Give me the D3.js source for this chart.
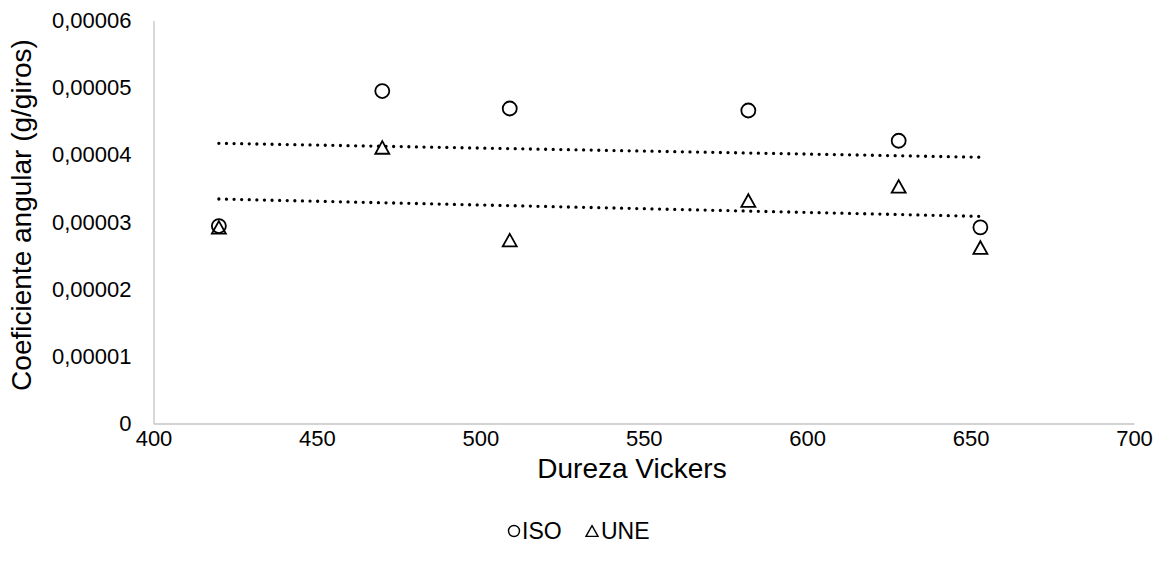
<!DOCTYPE html>
<html lang="es">
<head>
<meta charset="UTF-8">
<title>Coeficiente angular vs Dureza Vickers</title>
<script src="https://d3js.org/d3.v7.min.js"></script>
<style>
    body { margin: 0; background: #fff; }
    svg { display: block; font-family: "Liberation Sans", Arial, sans-serif; }
    .axis path { stroke: #c4c4c4; stroke-width: 1.3px; }
    .axis text { font-size: 22px; fill: #000; }
    .title { font-size: 28px; fill: #000; }
    .legend text { font-size: 23px; fill: #000; }
</style>
</head>
<body>
<svg id="chart" width="1165" height="572"></svg>
<script>
// Dureza Vickers (x) and angular coefficient in g/giros (y)
const dureza = [420, 470, 509, 582, 628, 653];
const iso = [0.0000294, 0.0000495, 0.0000469, 0.0000466, 0.0000421, 0.0000292];
const une = [0.0000292, 0.0000411, 0.0000273, 0.0000332, 0.0000353, 0.0000262];
const xTicks = [400, 450, 500, 550, 600, 650, 700];
const yTicks = [0, 0.00001, 0.00002, 0.00003, 0.00004, 0.00005, 0.00006];
const seriesNames = ["ISO", "UNE"];

const svg = d3.select("#chart"),
    margin = {top: 20.5, right: 31, bottom: 148.5, left: 153.5},
    width = +svg.attr("width"),
    height = +svg.attr("height");

const x = d3.scaleLinear().domain([400, 700]).range([margin.left, width - margin.right]);
const y = d3.scaleLinear().domain([0, 0.00006]).range([height - margin.bottom, margin.top]);

const fmt = d => d === 0 ? "0" : d.toFixed(5).replace(".", ",");

svg.append("g")
    .attr("class", "axis")
    .attr("transform", `translate(0,${height - margin.bottom})`)
    .call(d3.axisBottom(x).tickValues(xTicks).tickSize(0).tickPadding(7))
    .call(g => g.selectAll("text").attr("font-family", null));

svg.append("g")
    .attr("class", "axis")
    .attr("transform", `translate(${margin.left},0)`)
    .call(d3.axisLeft(y).tickValues(yTicks).tickFormat(fmt).tickSize(0).tickPadding(22))
    .call(g => g.selectAll("text").attr("font-family", null));

svg.selectAll(".axis path.domain").attr("stroke", "#c4c4c4");

// linear trendlines (least squares)
function fit(xs, ys) {
    const mx = d3.mean(xs), my = d3.mean(ys);
    const b = d3.sum(xs, (v, i) => (v - mx) * (ys[i] - my)) / d3.sum(xs, v => (v - mx) ** 2);
    return v => my + b * (v - mx);
}

const xExt = d3.extent(dureza);
[iso, une].forEach(ys => {
    const f = fit(dureza, ys);
    svg.append("path")
        .datum(xExt)
        .attr("fill", "none")
        .attr("stroke", "#000")
        .attr("stroke-width", 3.3)
        .attr("stroke-linecap", "round")
        .attr("stroke-dasharray", "0 7.6")
        .attr("d", d3.line().x(d => x(d)).y(d => y(f(d))));
});

const triPath = s => `M0,${-s * 0.45}L${s / 2},${s * 0.45}L${-s / 2},${s * 0.45}Z`;

svg.append("g").selectAll("circle")
    .data(dureza)
    .enter().append("circle")
    .attr("cx", d => x(d))
    .attr("cy", (d, i) => y(iso[i]))
    .attr("r", 7)
    .attr("fill", "none")
    .attr("stroke", "#000")
    .attr("stroke-width", 1.8);

svg.append("g").selectAll("path")
    .data(dureza)
    .enter().append("path")
    .attr("transform", (d, i) => `translate(${x(d)},${y(une[i])})`)
    .attr("d", triPath(14))
    .attr("fill", "none")
    .attr("stroke", "#000")
    .attr("stroke-width", 1.8)
    .attr("stroke-linejoin", "miter");

// axis titles
svg.append("text")
    .attr("class", "title")
    .attr("x", 632)
    .attr("y", 478)
    .attr("text-anchor", "middle")
    .text("Dureza Vickers");

svg.append("text")
    .attr("class", "title")
    .attr("transform", "translate(31,215) rotate(-90)")
    .attr("text-anchor", "middle")
    .text("Coeficiente angular (g/giros)");

// legend
const legend = svg.append("g").attr("class", "legend").attr("transform", "translate(508,539)");
legend.append("circle").attr("cx", 6).attr("cy", -8).attr("r", 5.5)
    .attr("fill", "none").attr("stroke", "#000").attr("stroke-width", 1.4);
legend.append("text").attr("x", 14).attr("y", 0).text(seriesNames[0]);
legend.append("path").attr("transform", "translate(84,-8)").attr("d", triPath(12))
    .attr("fill", "none").attr("stroke", "#000").attr("stroke-width", 1.4);
legend.append("text").attr("x", 93).attr("y", 0).text(seriesNames[1]);
</script>
</body>
</html>
